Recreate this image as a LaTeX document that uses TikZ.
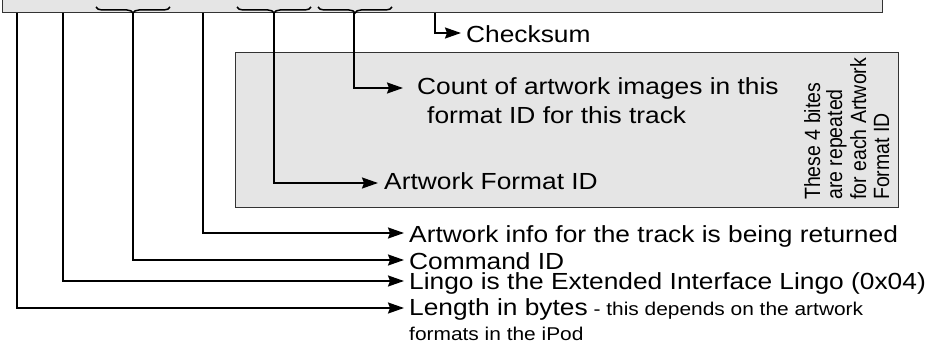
\documentclass[tikz,border=0pt]{standalone}
\usepackage{fontspec}
\setmainfont{Liberation Sans}[FakeStretch=1.13]
\newfontfamily\vertfont{Liberation Sans}
\usetikzlibrary{arrows.meta,decorations.pathreplacing}
\begin{document}
\begin{tikzpicture}[x=1pt,y=-1pt,
  conn/.style={line width=1.8pt, -{Stealth[length=16pt,width=11pt,inset=2pt]}},
  panel/.style={draw=black!80, line width=1pt, fill=black!10},
  bigtxt/.style={font=\fontsize{23.3}{26}\selectfont, anchor=base west, inner sep=0pt},
  smalltxt/.style={font=\fontsize{18.5}{22}\selectfont, anchor=base west, inner sep=0pt},
  vtxt/.style={font=\vertfont\fontsize{19.5}{22}\selectfont, rotate=90, anchor=base west, inner sep=0pt},
  brc/.style={decorate, decoration={brace, mirror, amplitude=6pt}, line width=1.5pt}]
\useasboundingbox (0,0) rectangle (940,345);
\clip (0,0) rectangle (940,345);
% panels
\path[panel] (2,-5) rectangle (882,13);
\path[panel] (235,53) rectangle (898,207);
% braces in the top bar
\draw[brc] (96,7) -- (170,7);
\draw[brc] (237,7) -- (311,7);
\draw[brc] (318,7) -- (392,7);
% connector ends
\coordinate (s1) at (17,13);  \coordinate (e1) at (404,308);
\coordinate (s2) at (63,13);  \coordinate (e2) at (404,281);
\coordinate (s3) at (133,13); \coordinate (e3) at (404,260);
\coordinate (s4) at (203,13); \coordinate (e4) at (404,233);
\coordinate (s5) at (274,13); \coordinate (e5) at (378,183);
\coordinate (s6) at (354,13); \coordinate (e6) at (403,88);
\coordinate (s7) at (435,13); \coordinate (e7) at (461,33);
% connectors
\draw[conn] (s1) |- (e1);
\draw[conn] (s2) |- (e2);
\draw[conn] (s3) |- (e3);
\draw[conn] (s4) |- (e4);
\draw[conn] (s5) |- (e5);
\draw[conn] (s6) |- (e6);
\draw[conn] (s7) |- (e7);
% labels
\node[bigtxt] (t7) at (466,43) {Checksum};
\node[bigtxt] (t6) at (417,95) {Count of artwork images in this};
\node[bigtxt] (t6b) at (427,123) {format ID for this track};
\node[bigtxt] (t5) at (384,189) {Artwork Format ID};
\node[bigtxt] (t4) at (409,242) {Artwork info for the track is being returned};
\node[bigtxt] (t3) at (409,269.5) {Command ID};
\node[bigtxt] (t2) at (409,289.5) {Lingo is the Extended Interface Lingo (0x04)};
\node[bigtxt] (t1) at (409,315) {Length in bytes{\fontsize{18.5}{22}\selectfont\ - this depends on the artwork}};
\node[smalltxt] (t1b) at (409,340) {formats in the iPod};
% vertical note
\node[vtxt] (v1) at (820,200) {\scalebox{1}[1.13]{These 4 bites}};
\node[vtxt] (v2) at (842,200) {\scalebox{1}[1.13]{are repeated}};
\node[vtxt] (v3) at (866,200) {\scalebox{1}[1.13]{for each Artwork}};
\node[vtxt] (v4) at (889,200) {\scalebox{1}[1.13]{Format ID}};
\end{tikzpicture}
\end{document}
